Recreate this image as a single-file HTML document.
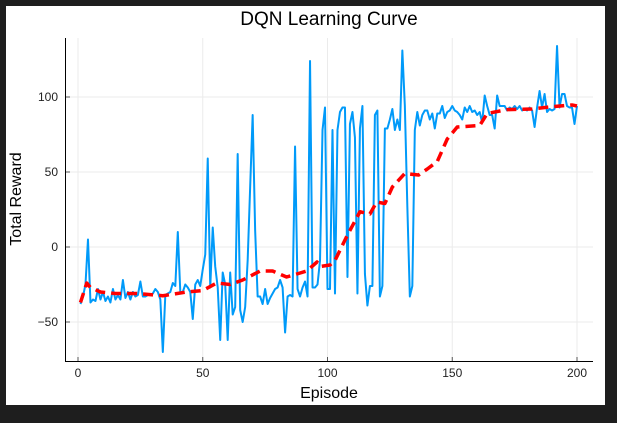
<!DOCTYPE html>
<html><head><meta charset="utf-8"><style>
html,body{margin:0;padding:0;background:#1e1e1e;}
svg{display:block;font-family:"Liberation Sans",sans-serif;}
</style></head><body>
<svg id="c" width="617" height="423" viewBox="0 0 617 423" xmlns="http://www.w3.org/2000/svg">
<rect x="0" y="0" width="617" height="423" fill="#1e1e1e"/>
<rect x="6" y="6" width="599" height="399" fill="#ffffff"/>
<g id="grid"></g>
<g id="series"></g>
<g id="axes"></g>
<text x="329" y="25" text-anchor="middle" font-size="19" fill="#000">DQN Learning Curve</text>
<text x="329" y="398" text-anchor="middle" font-size="16" fill="#000">Episode</text>
<text transform="translate(21,199) rotate(-90)" text-anchor="middle" font-size="16" fill="#000">Total Reward</text>
</svg>
<script>
const rewards = [
-38,-33,-25,5,-37,-35,-36,-28,-35,-30,
-36,-33,-37,-28,-35,-32,-35,-22,-34,-30,
-35,-30,-33,-32,-23,-33,-33,-32,-32,-31,
-28,-30,-35,-70,-32,-31,-30,-24,-26,10,
-30,-30,-25,-27,-30,-48,-25,-22,-26,-15,
-5,59,-27,13,-13,-27,-62,-17,-25,-62,
-17,-45,-40,62,-42,-50,-40,-9,40,88,
11,-33,-33,-38,-28,-38,-34,-31,-28,-27,
-22,-27,-57,-33,-32,-33,67,-28,-33,-27,
-23,-33,124,-27,-27,-25,-9,78,93,-28,
-28,78,-31,78,90,93,93,-20,82,90,
73,-31,79,94,-18,-39,-26,-26,88,91,
-33,-26,79,79,85,92,78,85,78,131,
94,27,-33,-26,78,90,81,88,91,91,
85,89,79,89,89,94,86,90,91,94,
91,90,88,85,93,90,94,90,91,88,
90,83,101,94,88,88,79,101,94,94,
94,91,93,92,94,92,94,91,92,91,
93,91,80,93,104,93,102,90,92,91,
92,134,93,102,102,94,93,93,82,94];
const avgEpisodes = [1,3.5,5,9,15,23.5,34,43.6,50,55.6,61,66,73,78,83.6,87.7,91.7,95.8,97,101,103,107.7,113,117,119.7,123,126,131,136.5,140,144,148,152,161,164,172,182,190,198,200];
const avgValues   = [-37,-24,-27,-30,-31,-31,-32.5,-30,-29,-24,-25,-22,-16,-16,-20,-18,-16,-10,-13,-12,-9,7,23.5,22,30,29,40,49,48,52,57,72,80,81,89,91.6,92,93.5,94.7,94];
const xTicks = [0,50,100,150,200];
const yTicks = [-50,0,50,100];

const NS="http://www.w3.org/2000/svg";
const X = v => 78 + v*2.495;
const Y = v => 247 - v*1.5;
function mk(tag, attrs, parent){const e=document.createElementNS(NS,tag);for(const k in attrs)e.setAttribute(k,attrs[k]);parent.appendChild(e);return e;}
const grid=document.getElementById('grid'), axes=document.getElementById('axes'), series=document.getElementById('series');
xTicks.forEach(t=>{
  const g=mk('line',{x1:X(t),x2:X(t),y1:38,y2:361,stroke:'#ebebeb','stroke-width':1},grid);
   
  const tk=mk('line',{x1:X(t),x2:X(t),y1:361,y2:357,stroke:'#555','stroke-width':1},axes);
   
  const tx=mk('text',{x:X(t),y:377,'text-anchor':'middle','font-size':12,fill:'#222'},axes);
  tx.textContent=t;
   
});
yTicks.forEach(t=>{
  const g=mk('line',{x1:66,x2:593,y1:Y(t),y2:Y(t),stroke:'#ebebeb','stroke-width':1},grid);
   
  const tk=mk('line',{x1:66,x2:70,y1:Y(t),y2:Y(t),stroke:'#555','stroke-width':1},axes);
   
  const tx=mk('text',{x:58,y:Y(t)+4,'text-anchor':'end','font-size':12,fill:'#222'},axes);
  tx.textContent=(t<0?'\u2212'+(-t):t);
   
});
const ax1=mk('line',{x1:65.5,x2:65.5,y1:38,y2:362,stroke:'#000','stroke-width':1},axes);
 
const ax2=mk('line',{x1:65,x2:593,y1:361.5,y2:361.5,stroke:'#000','stroke-width':1},axes);
 

const pts=rewards.map((v,i)=>X(i+1).toFixed(2)+','+Y(v).toFixed(2)).join(' ');
const rl=mk('polyline',{points:pts,fill:'none',stroke:'#009af9','stroke-width':2,'stroke-linejoin':'round'},series);
 
const apts=avgValues.map((v,i)=>X(avgEpisodes[i]).toFixed(2)+','+Y(v).toFixed(2)).join(' ');
const ml=mk('polyline',{points:apts,fill:'none',stroke:'#ff0000','stroke-width':3.5,'stroke-dasharray':'10 6','stroke-linejoin':'round'},series);
 
</script>
</body></html>
